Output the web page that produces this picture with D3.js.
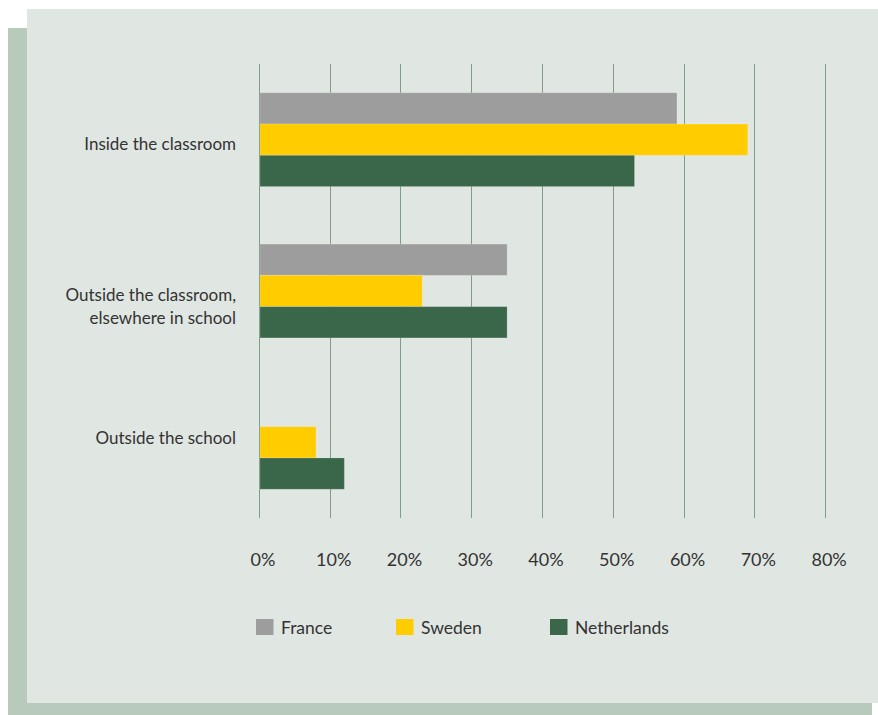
<!DOCTYPE html>
<html>
<head>
<meta charset="utf-8">
<script src="https://cdn.jsdelivr.net/npm/d3@7"></script>
<style>
  html, body { margin: 0; padding: 0; background: #ffffff; }
  svg { display: block; }
  text { font-family: Lato, "Open Sans", sans-serif; fill: #333333; }
</style>
</head>
<body>
<svg id="chart" width="878" height="715"></svg>
<script>
// Where pupils use ICT — share of use by location
const categories = [
  ["Inside the classroom"],
  ["Outside the classroom,", "elsewhere in school"],
  ["Outside the school"]
];
const seriesNames = ["France", "Sweden", "Netherlands"];
const france      = [59, 35, 0];
const sweden      = [69, 23, 8];
const netherlands = [53, 35, 12];
const tickValues  = [0, 10, 20, 30, 40, 50, 60, 70, 80];

const seriesValues = [france, sweden, netherlands];
const colors = ["#9d9d9d", "#ffcc00", "#3a6649"];

const svg = d3.select("#chart");

// Panel with offset shadow
svg.append("rect").attr("x", 8).attr("y", 28).attr("width", 864).attr("height", 687).attr("fill", "#b8cabb");
svg.append("rect").attr("x", 27).attr("y", 9).attr("width", 851).attr("height", 694).attr("fill", "#e0e6e2");

const x = d3.scaleLinear().domain([0, 80]).range([259.4, 825.6]);
const catIdx = categories.map((d, i) => i);
const y0 = d3.scaleBand().domain(catIdx).range([64, 518]).paddingInner(0.38).paddingOuter(0.19);
const y1 = d3.scaleBand().domain(seriesNames).range([0, y0.bandwidth()]);

// Vertical grid lines (the 0% line doubles as the axis)
const grid = svg.append("g");
grid.selectAll("line").data(tickValues).join("line")
  .attr("x1", d => Math.floor(x(d)) + 0.5)
  .attr("x2", d => Math.floor(x(d)) + 0.5)
  .attr("y1", 64).attr("y2", 518)
  .attr("stroke", "#7d9d85").attr("stroke-width", 1);

// Bars
const groups = svg.append("g").selectAll("g").data(catIdx).join("g")
  .attr("transform", i => `translate(0,${y0(i)})`);
groups.selectAll("rect")
  .data(i => seriesNames.map((s, k) => ({ s, k, v: seriesValues[k][i] })).filter(d => d.v > 0))
  .join("rect")
  .attr("x", x(0) + 0.6)
  .attr("y", d => y1(d.s))
  .attr("width", d => x(d.v) - x(0) - 0.6)
  .attr("height", y1.bandwidth())
  .attr("fill", d => colors[d.k])
  .attr("stroke", "rgba(255,255,255,0.18)")
  .attr("stroke-width", 1);

// Category labels, right-aligned against the axis
const labelNudge = [10.5, 10, 2];
const lineGap = 23;
svg.append("g").selectAll("text").data(catIdx).join("text")
  .attr("text-anchor", "end")
  .attr("font-size", 17)
  .each(function (i) {
    const lines = categories[i];
    const base = y0(i) + y0.bandwidth() / 2 + labelNudge[i];
    d3.select(this).selectAll("tspan").data(lines).join("tspan")
      .attr("x", 236)
      .attr("y", (t, j) => base + j * lineGap)
      .text(t => t);
  });

// Axis tick labels
const xAxis = d3.axisBottom(x).tickValues(tickValues).tickSize(0).tickPadding(0)
  .tickFormat(d => d + "%");
const ax = svg.append("g").attr("transform", "translate(3,553)").call(xAxis);
ax.select(".domain").remove();
ax.selectAll("text").attr("font-size", 18).attr("font-family", "Lato, sans-serif").attr("fill", "#333333");

// Legend
const legendX = [256, 396, 550];
const legend = svg.append("g").selectAll("g").data(seriesNames).join("g")
  .attr("transform", (d, k) => `translate(${legendX[k]},619)`);
legend.append("rect").attr("width", 17.5).attr("height", 16).attr("fill", (d, k) => colors[k]);
legend.append("text").attr("x", 25).attr("y", 15).attr("font-size", 17.5).text(d => d);
</script>
</body>
</html>
